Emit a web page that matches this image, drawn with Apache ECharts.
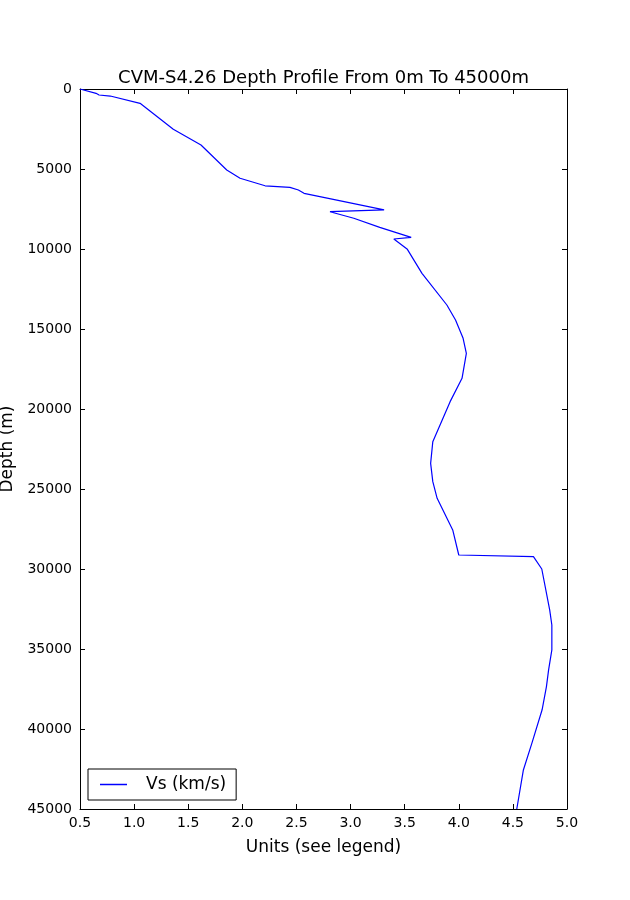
<!DOCTYPE html>
<html>
<head>
<meta charset="utf-8">
<script src="https://cdn.jsdelivr.net/npm/echarts@6/dist/echarts.min.js"></script>
<style>html,body{margin:0;padding:0;background:#fff}#c{width:630px;height:900px}</style>
</head>
<body>
<div id="c"></div>
<script>
// Vs (km/s) values and depths (m)
var vsValues = [0.50, 0.648, 0.676, 0.78, 1.055, 1.362, 1.618, 1.856, 1.979, 2.21, 2.44, 2.518, 2.57, 2.84, 3.31, 2.81, 3.03, 3.27, 3.56, 3.40, 3.525, 3.66, 3.89, 3.97, 4.04, 4.07, 4.03, 3.92, 3.76, 3.74, 3.735, 3.76, 3.80, 3.944, 4.00, 4.69, 4.767, 4.84, 4.86, 4.86, 4.83, 4.81, 4.77, 4.675, 4.597, 4.536];
var depths   = [0, 270, 375, 440, 895, 2520, 3500, 5060, 5580, 6050, 6145, 6310, 6520, 6900, 7560, 7670, 8080, 8650, 9270, 9375, 10020, 11520, 13500, 14440, 15580, 16520, 18080, 19540, 22040, 23400, 23500, 24540, 25580, 27560, 29125, 29230, 30000, 32560, 33500, 35060, 36300, 37350, 38800, 40900, 42560, 45000];
var xTicks = [0.5, 1.0, 1.5, 2.0, 2.5, 3.0, 3.5, 4.0, 4.5, 5.0];
var yTicks = [0, 5000, 10000, 15000, 20000, 25000, 30000, 35000, 40000, 45000];
var titleText = 'CVM-S4.26 Depth Profile From 0m To 45000m';
var seriesName = 'Vs (km/s)';

var data = vsValues.map(function (v, i) { return [v, depths[i]]; });

var chart = echarts.init(document.getElementById('c'), null, {renderer: 'canvas'});
var font = 'DejaVu Sans';
var tickStyle = {show: true, inside: true, length: 5, lineStyle: {color: '#000', width: 1}};
chart.setOption({
  animation: false,
  backgroundColor: '#fff',
  textStyle: {fontFamily: font},
  graphic: [{
    type: 'text',
    style: {x: 323.5, y: 78, text: titleText, font: '18px "DejaVu Sans"', fill: '#000',
      textAlign: 'center', textVerticalAlign: 'middle'}
  }],
  grid: {left: 80, right: 63, top: 89, bottom: 91, containLabel: false, outerBoundsMode: 'none'},
  legend: {
    data: [seriesName], left: 88, top: 769,
    orient: 'vertical',
    padding: [7, 10, 7, 12],
    borderColor: '#000', borderWidth: 1,
    icon: 'rect', itemWidth: 27, itemHeight: 1.5,
    textStyle: {fontFamily: font, fontSize: 17, color: '#000', padding: [0, 0, 0, 14]}
  },
  xAxis: [{
    type: 'value', min: xTicks[0], max: xTicks[xTicks.length - 1], interval: 0.5,
    name: 'Units (see legend)', nameLocation: 'middle', nameGap: 30,
    nameTextStyle: {fontFamily: font, fontSize: 17, color: '#000'},
    axisLine: {show: true, onZero: false, lineStyle: {color: '#000', width: 1}},
    axisTick: tickStyle, splitLine: {show: false},
    axisLabel: {color: '#000', fontFamily: font, fontSize: 14, margin: 7,
      formatter: function (v) { return v.toFixed(1); }}
  }, {
    type: 'value', position: 'top', min: xTicks[0], max: xTicks[xTicks.length - 1], interval: 0.5,
    axisLine: {show: true, onZero: false, lineStyle: {color: '#000', width: 1}},
    axisTick: tickStyle, axisLabel: {show: false}, splitLine: {show: false}
  }],
  yAxis: [{
    type: 'value', inverse: true, min: yTicks[0], max: yTicks[yTicks.length - 1], interval: 5000,
    name: 'Depth (m)', nameLocation: 'middle', nameGap: 61,
    nameTextStyle: {fontFamily: font, fontSize: 17, color: '#000'},
    axisLine: {show: true, onZero: false, lineStyle: {color: '#000', width: 1}},
    axisTick: tickStyle, splitLine: {show: false},
    axisLabel: {color: '#000', fontFamily: font, fontSize: 14, margin: 8,
      formatter: function (v) { return String(v); }}
  }, {
    type: 'value', position: 'right', inverse: true, min: yTicks[0], max: yTicks[yTicks.length - 1], interval: 5000,
    axisLine: {show: true, onZero: false, lineStyle: {color: '#000', width: 1}},
    axisTick: tickStyle, axisLabel: {show: false}, splitLine: {show: false}
  }],
  series: [{
    name: seriesName, type: 'line', data: data,
    xAxisIndex: 0, yAxisIndex: 0,
    showSymbol: false, symbol: 'none',
    lineStyle: {color: '#0000ff', width: 1.2},
    itemStyle: {color: '#0000ff'}
  }]
});
</script>
</body>
</html>
